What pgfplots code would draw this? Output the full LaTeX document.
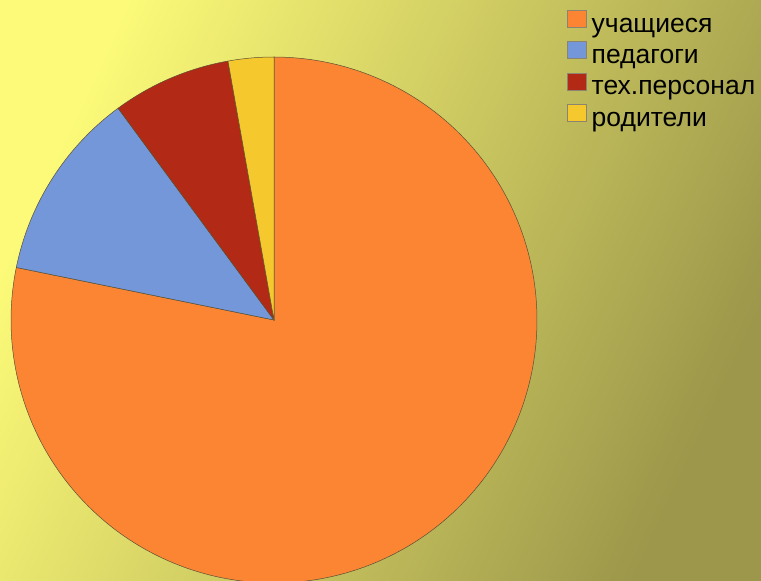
\documentclass[border=0pt]{standalone}
\usepackage{pgfplots}
\pgfplotsset{compat=1.18}
\usepackage{fontspec}
\setmainfont{Liberation Sans}
\definecolor{cOrange}{RGB}{252,133,52}
\definecolor{cBlue}{RGB}{116,151,217}
\definecolor{cRed}{RGB}{178,42,22}
\definecolor{cYellow}{RGB}{245,200,45}
\definecolor{bgA}{RGB}{252,250,120}
\definecolor{bgB}{RGB}{208,206,96}
\definecolor{bgC}{RGB}{156,151,74}
\definecolor{edge}{RGB}{90,80,50}
% slice values (%)
\def\vA{78.2}\def\vB{11.7}\def\vC{7.3}\def\vD{2.8}
\pgfmathsetmacro{\aA}{90}
\pgfmathsetmacro{\aB}{\aA-3.6*\vA}
\pgfmathsetmacro{\aC}{\aB-3.6*\vB}
\pgfmathsetmacro{\aD}{\aC-3.6*\vC}
\pgfmathsetmacro{\aE}{\aD-3.6*\vD}
\begin{document}
\begin{tikzpicture}[x=1pt,y=1pt]
\shade[left color=bgA, middle color=bgB, right color=bgC, shading angle=65] (0,0) rectangle (761,581);
\begin{axis}[at={(0,0)}, anchor=south west, scale only axis, width=761pt, height=581pt,
  xmin=0, xmax=761, ymin=0, ymax=581, hide axis, clip=true,
  legend style={draw=none, fill=none, at={(axis cs:567,571)}, anchor=north west,
    font=\fontsize{26.5}{30}\selectfont, inner sep=0pt,
    nodes={inner ysep=4pt, inner xsep=3pt, text height=17pt, text depth=5pt}},
  legend cell align=left,
  legend image code/.code={\draw[#1, draw=edge!70, line width=0.5pt] (0pt,-1pt) rectangle (19pt,16pt);},
  ]
\addplot[fill=cOrange, draw=edge, line width=0.5pt, domain=\aA:\aB, samples=200] ({274+263*cos(x)},{261+263*sin(x)}) -- (axis cs:274,261) -- cycle;
\addlegendentry{\hspace{2pt}учащиеся}
\addplot[fill=cBlue, draw=edge, line width=0.5pt, domain=\aB:\aC, samples=60] ({274+263*cos(x)},{261+263*sin(x)}) -- (axis cs:274,261) -- cycle;
\addlegendentry{\hspace{2pt}педагоги}
\addplot[fill=cRed, draw=edge, line width=0.5pt, domain=\aC:\aD, samples=40] ({274+263*cos(x)},{261+263*sin(x)}) -- (axis cs:274,261) -- cycle;
\addlegendentry{\hspace{2pt}тех.персонал}
\addplot[fill=cYellow, draw=edge, line width=0.5pt, domain=\aD:\aE, samples=20] ({274+263*cos(x)},{261+263*sin(x)}) -- (axis cs:274,261) -- cycle;
\addlegendentry{\hspace{2pt}родители}
\end{axis}
\end{tikzpicture}
\end{document}
